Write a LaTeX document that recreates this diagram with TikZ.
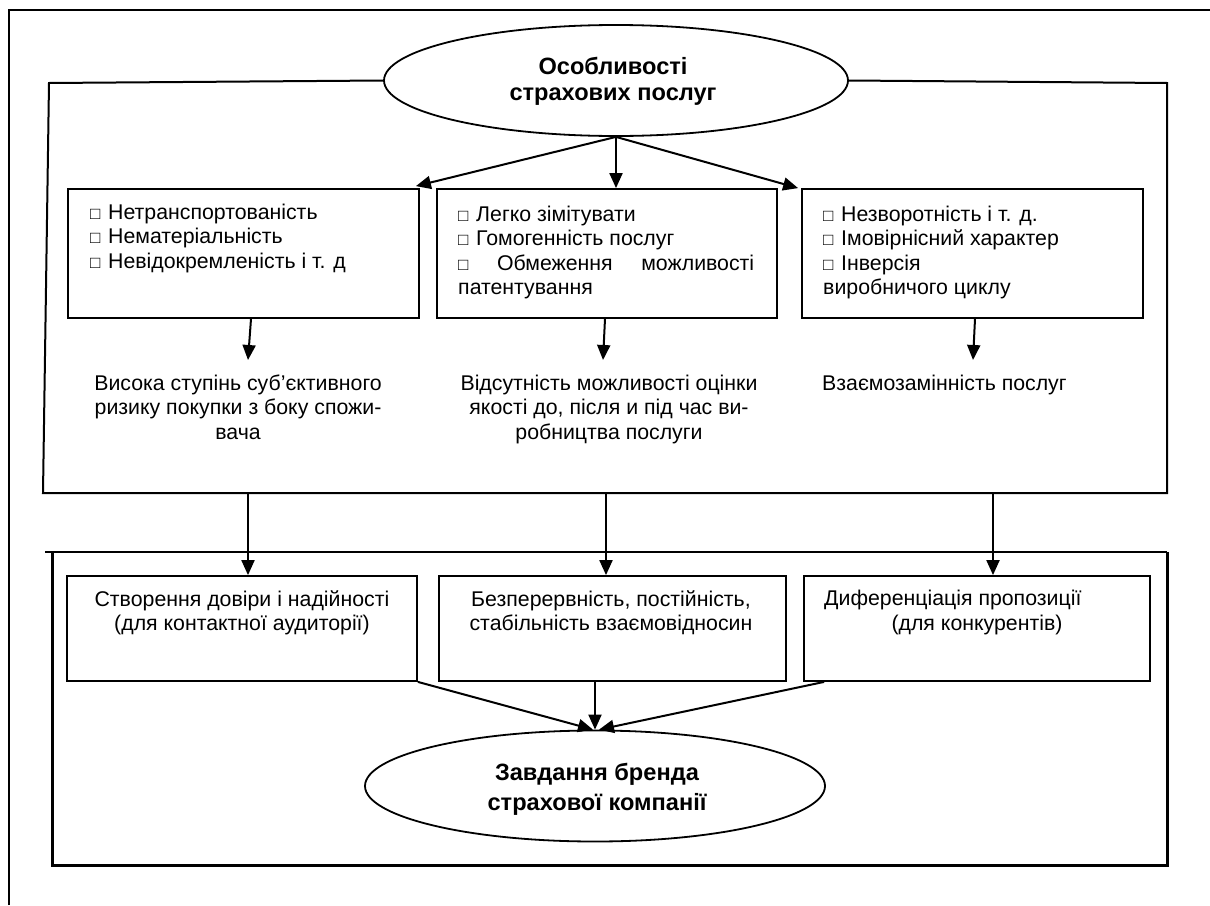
\documentclass[tikz,border=0pt]{standalone}
\usepackage{fontspec}
\setmainfont{Liberation Sans}
\usetikzlibrary{shapes.geometric,arrows.meta,calc}
\newcommand\bx{\makebox[18pt][l]{\fontsize{17}{17}\selectfont □}}
\begin{document}
\begin{tikzpicture}[x=1pt,y=-1pt,
  line/.style={line width=2pt},
  thick frame/.style={line width=3pt},
  arr/.style={line width=2pt,-{Triangle[length=15pt,width=13pt]}},
  box/.style={draw,line width=1.8pt,rectangle,inner sep=0pt},
  oval/.style={draw,ellipse,line width=1.8pt,inner sep=0pt},
  txt/.style={inner sep=0pt,font=\fontsize{21.3}{24.5}\selectfont},
  boldtxt/.style={inner sep=0pt,font=\fontsize{23.6}{26}\selectfont\bfseries},
]
\useasboundingbox (0,0) rectangle (1210,905);
\fill[white] (0,0) rectangle (1210,905);

% outer frame (cropped)
\coordinate (o1) at (9,905);
\coordinate (o2) at (9,10);
\coordinate (o3) at (1210,10);
\draw[line] (o1) -- (o2) -- (o3);

% top ellipse
\node[oval,minimum width=464pt,minimum height=111pt] (e1) at (616,80.5) {};
\node[boldtxt,anchor=base] (e1t) at (613,74) {\parbox[t]{330pt}{\centering Особливості\\ страхових послуг}};

% upper frame
\coordinate (u1) at (49,83);
\coordinate (u2) at (43,493);
\coordinate (u3) at (1167,493);
\coordinate (u4) at (1167,83);
\draw[line] (e1.west) -- (u1) -- (u2) -- (u3) -- (u4) -- (e1.east);

% upper boxes
\node[box,minimum width=351pt,minimum height=129pt] (b1) at (243.5,253.5) {};
\node[box,minimum width=340pt,minimum height=129pt] (b2) at (607,253.5) {};
\node[box,minimum width=341pt,minimum height=129pt] (b3) at (972.5,253.5) {};

\node[txt,anchor=base west] (b1t) at (90,219) {\parbox[t]{320pt}{\raggedright
 \bx Нетранспортованість\\ \bx Нематеріальність\\ \bx Невідокремленість і т. д}};
\node[txt,anchor=base west] (b2t) at (458,221) {\parbox[t]{310pt}{\raggedright
 \bx Легко зімітувати\\ \bx Гомогенність послуг\\ \leavevmode\hbox to 296pt{{\fontsize{17}{17}\selectfont □}\hfill Обмеження\hfill можливості}\\ патентування}};
\node[txt,anchor=base west] (b3t) at (823,221) {\parbox[t]{310pt}{\raggedright
 \bx Незворотність і т. д.\\ \bx Імовірнісний характер\\ \bx Інверсія\\ виробничого циклу}};

% arrows from ellipse
\draw[arr] (e1.south) -- ($(b1.north east)+(-4,-2)$);
\draw[arr] (e1.south) -- (e1.south |- b2.north);
\draw[arr] (e1.south) -- ($(b3.north west)+(-3,0)$);

% results
\coordinate (a1) at (248,360);
\coordinate (a2) at (603,360);
\coordinate (a3) at (973,360);
\draw[arr] ($(b1.south)+(7.5,0)$) -- (a1);
\draw[arr] ($(b2.south)+(-2,0)$) -- (a2);
\draw[arr] ($(b3.south)+(2.5,0)$) -- (a3);

\node[txt,anchor=base] (r1) at (238,390) {\parbox[t]{340pt}{\centering Висока ступінь суб’єктивного\\ ризику покупки з боку спожи-\\ вача}};
\node[txt,anchor=base] (r2) at (609,390) {\parbox[t]{340pt}{\centering Відсутність можливості оцінки\\ якості до, після и під час ви-\\ робництва послуги}};
\node[txt,anchor=base west] (r3) at (822,390) {Взаємозамінність послуг};

% lower frame
\coordinate (l0) at (45,552);
\coordinate (l1) at (1167,552);
\coordinate (l2) at (1167,865);
\coordinate (l3) at (52,865);
\coordinate (l4) at (52,552);
\draw[line] (l0) -- (l1);
\draw[thick frame] (l1) -- (l2) -- (l3) -- (l4);

% lower boxes
\node[box,minimum width=350pt,minimum height=105pt] (b4) at (242,628.5) {};
\node[box,minimum width=347pt,minimum height=105pt] (b5) at (612.5,628.5) {};
\node[box,minimum width=346pt,minimum height=105pt] (b6) at (977,628.5) {};

\node[txt,anchor=base] (b4t) at (242,606) {\parbox[t]{345pt}{\centering Створення довіри і надійності\\ (для контактної аудиторії)}};
\node[txt,anchor=base] (b5t) at (611,606) {\parbox[t]{345pt}{\centering Безперервність, постійність,\\ стабільність взаємовідносин}};
\node[txt,anchor=base west] (b6ta) at (824,605) {Диференціація пропозиції};
\node[txt,anchor=base] (b6tb) at (977,630) {(для конкурентів)};

% arrows from upper frame to lower boxes
\coordinate (d1) at (248,493);
\coordinate (d2) at (606,493);
\coordinate (d3) at (993,493);
\draw[arr] (d1) -- (d1 |- b4.north);
\draw[arr] (d2) -- (d2 |- b5.north);
\draw[arr] (d3) -- (d3 |- b6.north);

% bottom ellipse
\node[oval,minimum width=460pt,minimum height=111pt] (e2) at (595,786) {};
\node[boldtxt,anchor=base] (e2t) at (597,780) {\parbox[t]{330pt}{\fontsize{23.6}{30}\selectfont\centering Завдання бренда\\ страхової компанії}};

\draw[arr] (b4.south east) -- ($(e2.north)+(-2,0)$);
\draw[arr] (e2.north |- b5.south) -- (e2.north);
\draw[arr] ($(b6.south west)+(21,0)$) -- ($(e2.north)+(4,0)$);
\end{tikzpicture}
\end{document}
